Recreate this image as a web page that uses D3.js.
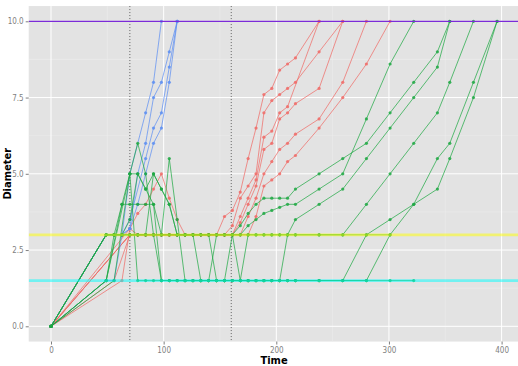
<!DOCTYPE html>
<html>
<head>
<meta charset="utf-8">
<script src="https://d3js.org/d3.v7.min.js"></script>
<style>
  body { margin: 0; background: #fff; }
  svg { display: block; }
  text { font-family: "Liberation Sans Narrow", "DejaVu Sans Condensed", "Liberation Sans", sans-serif; }
</style>
</head>
<body>
<div id="chart"></div>
<script>
// series: [time, diameter] pairs
const blueA = [[0,0],[49,3],[56,3],[63,3],[70,5],[84,7],[91,8],[98,10]];
const blueB = [[0,0],[49,3],[56,3],[63,3],[70,3.2],[77,5],[84,6],[91,7.5],[98,8],[105,9],[112,10]];
const blueC = [[0,0],[49,3],[56,3],[63,3],[70,3.5],[84,5.5],[91,6.5],[98,7],[105,8.5],[112,10]];
const blueD = [[0,0],[49,1.5],[56,1.5],[63,3],[70,3.2],[77,4],[84,5],[91,6],[98,6.5],[105,8],[112,10]];

const redA = [[0,0],[70,3.2],[77,3.7],[84,4],[91,4.5],[98,5],[105,4.2],[112,3.5],[119,3],[126,3],[133,3],[140,3],[147,3],[154,3.6],[161,3.8],[168,4.4],[175,5.5],[182,6.5],[189,7.6],[196,7.8],[203,8.4],[210,8.6],[217,8.8],[238,10]];
const redB = [[0,0],[63,1.5],[70,3.2],[77,3],[84,3],[91,3],[98,3],[105,3],[112,3],[119,3],[126,3],[133,3],[140,3],[147,3],[154,3],[161,3.3],[168,4.2],[175,4.6],[182,5],[189,7],[196,7.4],[203,7.6],[210,7.8],[217,8],[238,9],[259,10]];
const redC = [[0,0],[56,1.5],[70,3],[77,3],[84,3],[91,3],[98,3],[105,3],[112,3],[119,3],[126,3],[133,3],[140,3],[147,3],[154,3],[161,3],[168,3.6],[175,4.2],[182,4.8],[189,6.2],[196,6.4],[203,7],[210,7.2],[238,10]];
const redD = [[0,0],[70,3],[77,3],[84,3],[91,3],[98,3],[105,3],[112,3],[119,3],[126,3],[133,3],[140,3],[147,3],[154,3],[161,3],[168,3.4],[175,4],[182,4.6],[189,5.8],[196,6],[203,6.8],[210,7],[217,7.3],[238,7.8],[259,10]];
const redE = [[0,0],[70,3],[77,3],[84,3],[91,3],[98,3],[105,3],[112,3],[119,3],[126,3],[133,3],[140,3],[147,3],[154,3],[161,3],[168,3],[175,3.6],[182,4.2],[189,5],[196,5.4],[203,5.8],[210,6],[217,6.3],[238,6.8],[259,8],[280,10]];
const redF = [[0,0],[70,3],[77,3],[84,3],[91,3],[98,3],[105,3],[112,3],[119,3],[126,3],[133,3],[140,3],[147,3],[154,3],[161,3],[168,3],[175,3],[182,3.6],[189,4.6],[196,4.8],[203,5],[210,5.4],[217,5.6],[238,6.5],[259,7.5],[280,8.6],[301,10]];

const greenA = [[0,0],[49,3],[56,3],[63,4],[70,4],[77,4],[84,4],[91,4],[98,1.5],[105,1.5],[112,1.5],[119,1.5],[126,1.5],[133,1.5],[140,1.5],[147,1.5],[154,1.5],[161,1.5],[168,1.5],[175,1.5],[182,1.5],[189,1.5],[196,1.5],[203,1.5],[210,3],[217,3.5],[238,4],[259,4.5],[280,5.5],[301,6.5],[322,7.5],[343,8.5],[354,10]];
const greenB = [[0,0],[49,1.5],[63,4],[70,5],[77,6],[84,5],[91,3],[98,3],[105,3],[112,3],[119,3],[126,3],[133,3],[140,3],[147,1.5],[154,1.5],[161,3],[168,3.3],[175,3.7],[182,4],[189,4.2],[196,4.2],[203,4.2],[210,4.2],[217,4.5],[238,5],[259,5.5],[280,6],[301,7],[322,8],[343,9],[354,10]];
const greenC = [[0,0],[49,3],[56,3],[63,3],[70,3.5],[77,5],[84,4.5],[91,4],[98,3],[105,3],[112,3],[119,3],[126,3],[133,1.5],[140,1.5],[147,3],[154,3],[161,3],[168,3],[175,3.3],[182,3.5],[189,3.7],[196,3.8],[203,3.9],[210,4],[217,4],[238,4.5],[259,5],[280,6.8],[301,8.6],[322,10]];
const greenD = [[0,0],[49,1.5],[56,3],[63,3],[70,3],[77,3],[84,3],[91,5],[98,4.5],[105,4],[112,3],[119,3],[126,3],[133,3],[140,3],[147,3],[154,3],[161,3],[168,3],[175,3],[182,3],[189,3],[196,3],[203,3],[210,3],[217,3],[238,3],[259,3],[280,4],[301,5],[322,6],[343,7],[354,8],[375,10]];
const greenE = [[0,0],[56,1.5],[70,5],[77,1.5],[84,1.5],[91,1.5],[98,1.5],[105,1.5],[112,1.5],[119,1.5],[126,1.5],[133,1.5],[140,1.5],[147,1.5],[154,1.5],[161,1.5],[168,1.5],[175,1.5],[182,1.5],[189,1.5],[196,1.5],[203,1.5],[210,1.5],[217,1.5],[238,1.5],[259,1.5],[280,3],[301,3.5],[322,4],[343,4.5],[354,5.5],[375,7.5],[396,10]];
const greenF = [[0,0],[49,3],[56,3],[63,3],[70,3],[77,3],[84,3],[91,3],[98,3],[105,5.5],[112,3.5],[119,1.5],[126,1.5],[133,1.5],[140,1.5],[147,1.5],[154,1.5],[161,1.5],[168,1.5],[175,1.5],[182,1.5],[189,1.5],[196,1.5],[203,1.5],[210,1.5],[217,1.5],[238,1.5],[259,1.5],[280,1.5],[301,3],[322,4],[343,5.5],[354,6],[375,8],[396,10]];
const greenG = [[0,0],[49,3],[56,3],[63,3],[70,3],[77,3],[84,3],[91,3],[98,1.5],[105,1.5],[112,1.5],[119,1.5],[126,1.5],[133,1.5],[140,1.5],[147,1.5],[154,1.5],[161,1.5],[168,1.5],[175,1.5],[182,1.5],[189,1.5],[196,1.5],[203,1.5],[210,1.5],[217,1.5],[238,1.5],[259,1.5],[280,1.5],[301,1.5],[322,1.5]];
const greenH = [[0,0],[49,1.5],[70,5],[77,5],[84,4.5],[91,5],[98,4.5],[105,4],[112,3],[119,3],[126,3],[133,3],[140,3],[147,3],[154,3],[161,3],[168,1.5],[175,3],[182,3],[189,3],[196,3],[203,3],[210,3],[217,3],[238,3],[259,3],[280,3],[301,3]];

const redSeries = [redA, redB, redC, redD, redE, redF];
const blueSeries = [blueA, blueB, blueC, blueD];
const greenSeries = [greenA, greenB, greenC, greenD, greenE, greenF, greenG, greenH];

// reference lines
const hLevels = [10, 3, 1.5];
const hColors = ['#7b2bd8', '#ffff00', '#00ffff'];
const vLevels = [70, 160];

const xTicks = [0, 100, 200, 300, 400];
const yTicks = [0, 2.5, 5, 7.5, 10];
const xMinor = [50, 150, 250, 350];
const yMinor = [1.25, 3.75, 6.25, 8.75];

var width = 518, height = 366;

var x = d3.scaleLinear().domain([0, 400]).range([51, 501.6]);
var y = d3.scaleLinear().domain([0, 10]).range([326.3, 21.3]);

var svg = d3.select("#chart").append("svg")
  .attr("width", width)
  .attr("height", height);

var px0 = x(-19.8), px1 = x(415.8);
var py0 = y(10.5), py1 = y(-0.5);

svg.append("defs").append("clipPath").attr("id", "panel")
  .append("rect")
  .attr("x", px0).attr("y", py0)
  .attr("width", px1 - px0).attr("height", py1 - py0);

// panel background
svg.append("rect")
  .attr("x", px0).attr("y", py0)
  .attr("width", px1 - px0).attr("height", py1 - py0)
  .attr("fill", "#e3e3e3");

var grid = svg.append("g").attr("clip-path", "url(#panel)");

grid.selectAll(".xminor").data(xMinor).enter().append("line")
  .attr("x1", d => x(d)).attr("x2", d => x(d))
  .attr("y1", py0).attr("y2", py1)
  .attr("stroke", "#efefef").attr("stroke-width", 0.5);
grid.selectAll(".yminor").data(yMinor).enter().append("line")
  .attr("x1", px0).attr("x2", px1)
  .attr("y1", d => y(d)).attr("y2", d => y(d))
  .attr("stroke", "#efefef").attr("stroke-width", 0.5);
grid.selectAll(".xmajor").data(xTicks).enter().append("line")
  .attr("x1", d => x(d)).attr("x2", d => x(d))
  .attr("y1", py0).attr("y2", py1)
  .attr("stroke", "#fff").attr("stroke-width", 1);
grid.selectAll(".ymajor").data(yTicks).enter().append("line")
  .attr("x1", px0).attr("x2", px1)
  .attr("y1", d => y(d)).attr("y2", d => y(d))
  .attr("stroke", "#fff").attr("stroke-width", 1);

// dotted vertical markers
grid.selectAll(".vline").data(vLevels).enter().append("line")
  .attr("x1", d => x(d)).attr("x2", d => x(d))
  .attr("y1", py0).attr("y2", py1)
  .attr("stroke", "#555").attr("stroke-width", 0.9)
  .attr("stroke-dasharray", "1,2");

var line = d3.line().x(d => x(d[0])).y(d => y(d[1]));

function drawGroup(series, color) {
  var g = grid.append("g");
  series.forEach(function(s) {
    g.append("path")
      .attr("d", line(s))
      .attr("fill", "none")
      .attr("stroke", color)
      .attr("stroke-width", 0.9)
      .attr("stroke-opacity", 0.8);
    g.selectAll(null).data(s).enter().append("circle")
      .attr("cx", d => x(d[0]))
      .attr("cy", d => y(d[1]))
      .attr("r", 1.6)
      .attr("fill", color)
      .attr("fill-opacity", 0.85);
  });
}

drawGroup(redSeries, "#F06A66");
drawGroup(blueSeries, "#5C8EF2");
drawGroup(greenSeries, "#1FA843");

// horizontal reference lines on top
grid.selectAll(".hline").data(hLevels).enter().append("line")
  .attr("x1", px0).attr("x2", px1)
  .attr("y1", d => y(d)).attr("y2", d => y(d))
  .attr("stroke", (d, i) => hColors[i])
  .attr("stroke-opacity", (d, i) => i == 0 ? 1 : 0.5)
  .attr("stroke-width", (d, i) => i == 0 ? 1.2 : 2.8);

// axes
var xAxis = svg.append("g")
  .attr("transform", "translate(0," + py1 + ")")
  .call(d3.axisBottom(x).tickValues(xTicks).tickSize(3).tickPadding(3));
var yAxis = svg.append("g")
  .attr("transform", "translate(" + px0 + ",0)")
  .call(d3.axisLeft(y).tickValues(yTicks).tickFormat(d3.format(".1f")).tickSize(3).tickPadding(2));

[xAxis, yAxis].forEach(function(a) {
  a.select(".domain").remove();
  a.selectAll(".tick line").attr("stroke", "#7f7f7f");
  a.selectAll(".tick text").attr("fill", "#7f7f7f").style("font-size", "8px");
});

svg.append("text")
  .attr("x", (px0 + px1) / 2).attr("y", 364)
  .attr("text-anchor", "middle")
  .style("font-size", "11px")
  .style("font-weight", "bold")
  .text("Time");

svg.append("text")
  .attr("transform", "translate(11," + ((py0 + py1) / 2) + ") rotate(-90)")
  .attr("text-anchor", "middle")
  .style("font-size", "11px")
  .style("font-weight", "bold")
  .text("Diameter");
</script>
</body>
</html>
